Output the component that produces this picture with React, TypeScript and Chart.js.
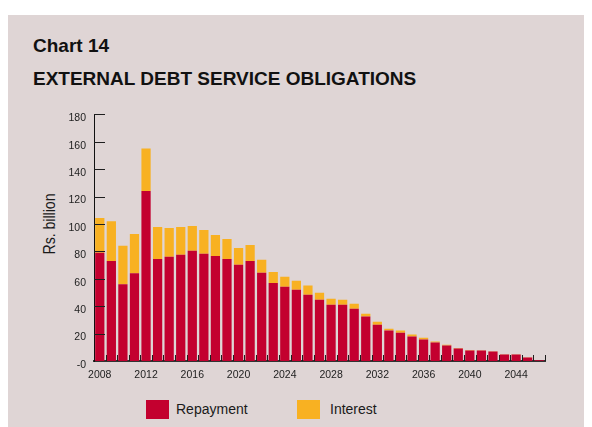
import React, { useEffect, useRef } from "react";
import { Chart, registerables } from "chart.js";

Chart.register(...registerables);

const years = [
  "2008", "2009", "2010", "2011", "2012", "2013", "2014", "2015", "2016", "2017",
  "2018", "2019", "2020", "2021", "2022", "2023", "2024", "2025", "2026", "2027",
  "2028", "2029", "2030", "2031", "2032", "2033", "2034", "2035", "2036", "2037",
  "2038", "2039", "2040", "2041", "2042", "2043", "2044", "2045", "2046",
];

const repayment = [
  79, 73, 56, 64, 124, 74.5, 76, 77.5, 80.4, 78.2,
  76.7, 74.5, 70.2, 73, 64.4, 57, 54.2, 52, 48.4, 44.7,
  41, 41, 38.2, 32.4, 26.5, 22.2, 20.7, 17.8, 15.6, 13.5,
  11.3, 9.1, 7.6, 7.6, 6.9, 4.7, 4.7, 2.5, 0.5,
];

const interest = [
  25.4, 29, 28, 28.7, 31, 23.3, 21, 20.3, 18.1, 17.4,
  15.3, 14.5, 12.3, 11.7, 9.4, 8, 7.3, 6.5, 6.6, 5.1,
  4.5, 3.7, 3.6, 2.1, 2.2, 1.4, 1.5, 1.5, 1.4, 0.7,
  0.5, 0.4, 0.4, 0.3, 0.3, 0.2, 0.2, 0.2, 0.1,
];

const xTickLabels = ["2008", "2012", "2016", "2020", "2024", "2028", "2032", "2036", "2040", "2044"];
const yTickValues = [0, 20, 40, 60, 80, 100, 120, 140, 160, 180];
const yTickLabels = ["-0", "20", "40", "60", "80", "100", "120", "140", "160", "180"];

const RED = "#c3002f";
const ORANGE = "#f8b122";
const BG = "#dfd5d5";
const FONT = '"Liberation Sans", Arial, Helvetica, sans-serif';

const innerTicks = {
  id: "innerTicks",
  afterDatasetsDraw(chart: any) {
    const { ctx, chartArea } = chart;
    const x = chart.scales.x;
    const y = chart.scales.y;
    ctx.save();
    ctx.strokeStyle = "#1e1e1e";
    ctx.lineWidth = 1;
    ctx.beginPath();
    const n = x.ticks.length;
    const step = (x.right - x.left) / n;
    for (let i = 1; i <= n; i++) {
      const px = Math.round(x.left + i * step) + 0.5;
      ctx.moveTo(px, chartArea.bottom);
      ctx.lineTo(px, chartArea.bottom - 6);
    }
    yTickValues.forEach((v) => {
      if (v === 0) return;
      const py = Math.round(y.getPixelForValue(v)) + 0.5;
      ctx.moveTo(chartArea.left, py);
      ctx.lineTo(chartArea.left + 11, py);
    });
    ctx.stroke();
    ctx.restore();
  },
};

export default function App() {
  const canvasRef = useRef<HTMLCanvasElement | null>(null);

  useEffect(() => {
    document.body.style.overflow = "hidden";
    const canvas = canvasRef.current;
    if (!canvas) return;
    const chart = new Chart(canvas, {
      type: "bar",
      data: {
        labels: years,
        datasets: [
          {
            label: "Repayment",
            data: repayment,
            backgroundColor: RED,
            borderWidth: 0,
            stack: "s",
          },
          {
            label: "Interest",
            data: interest,
            backgroundColor: ORANGE,
            borderWidth: 0,
            stack: "s",
          },
        ],
      },
      options: {
        responsive: false,
        animation: false,
        devicePixelRatio: 1,
        layout: { padding: { top: 14, right: 47, left: 0, bottom: 0 } },
        datasets: {
          bar: { categoryPercentage: 1, barPercentage: 0.8 },
        },
        plugins: {
          legend: { display: false },
          tooltip: { enabled: false },
          title: { display: false },
        },
        scales: {
          x: {
            stacked: true,
            offset: true,
            grid: { display: false, drawTicks: false },
            border: { display: true, color: "#333333", width: 2 },
            afterFit: (s: any) => {
              s.height = 31;
            },
            ticks: {
              autoSkip: false,
              maxRotation: 0,
              minRotation: 0,
              padding: 8,
              color: "#222222",
              font: { family: FONT, size: 10.5 },
              callback: function (this: any, _v: any, i: number) {
                const lab = years[i];
                return xTickLabels.includes(lab) ? lab : "";
              },
            },
          },
          y: {
            stacked: true,
            min: 0,
            max: 180,
            grid: { display: false, drawTicks: false },
            border: { display: true, color: "#111111", width: 1 },
            afterFit: (s: any) => {
              s.width = 86;
            },
            ticks: {
              stepSize: 20,
              padding: 8,
              labelOffset: 4,
              color: "#222222",
              font: { family: FONT, size: 10.5 },
              callback: (v: any) => {
                const idx = yTickValues.indexOf(Number(v));
                return idx >= 0 ? yTickLabels[idx] : "";
              },
            },
          },
        },
      },
      plugins: [innerTicks],
    });
    return () => chart.destroy();
  }, []);

  return (
    <div
      style={{
        position: "relative",
        marginTop: 7,
        width: 584,
        height: 412,
        background: BG,
        fontFamily: FONT,
        color: "#111111",
      }}
    >
      <div
        style={{
          position: "absolute",
          left: 25,
          top: 21,
          fontSize: 19,
          lineHeight: "19px",
          fontWeight: "bold",
          whiteSpace: "nowrap",
        }}
      >
        Chart 14
      </div>
      <div
        style={{
          position: "absolute",
          left: 25,
          top: 54,
          fontSize: 19,
          lineHeight: "19px",
          fontWeight: "bold",
          whiteSpace: "nowrap",
        }}
      >
        EXTERNAL DEBT SERVICE OBLIGATIONS
      </div>
      <div
        style={{
          position: "absolute",
          left: 41.5,
          top: 208.5,
          transform: "translate(-50%, -50%) rotate(-90deg) scaleX(0.88)",
          fontSize: 16,
          lineHeight: "18px",
          whiteSpace: "nowrap",
          color: "#1a1a1a",
        }}
      >
        Rs. billion
      </div>
      <canvas
        ref={canvasRef}
        width={584}
        height={292}
        style={{ position: "absolute", left: 0, top: 85, width: 584, height: 292 }}
      />
      <div style={{ position: "absolute", left: 138, top: 385, width: 23, height: 19, background: RED }} />
      <div
        style={{
          position: "absolute",
          left: 168,
          top: 385,
          fontSize: 14,
          lineHeight: "19px",
          whiteSpace: "nowrap",
          color: "#1a1a1a",
        }}
      >
        Repayment
      </div>
      <div style={{ position: "absolute", left: 289, top: 385, width: 23, height: 19, background: ORANGE }} />
      <div
        style={{
          position: "absolute",
          left: 322,
          top: 385,
          fontSize: 14,
          lineHeight: "19px",
          whiteSpace: "nowrap",
          color: "#1a1a1a",
        }}
      >
        Interest
      </div>
    </div>
  );
}
